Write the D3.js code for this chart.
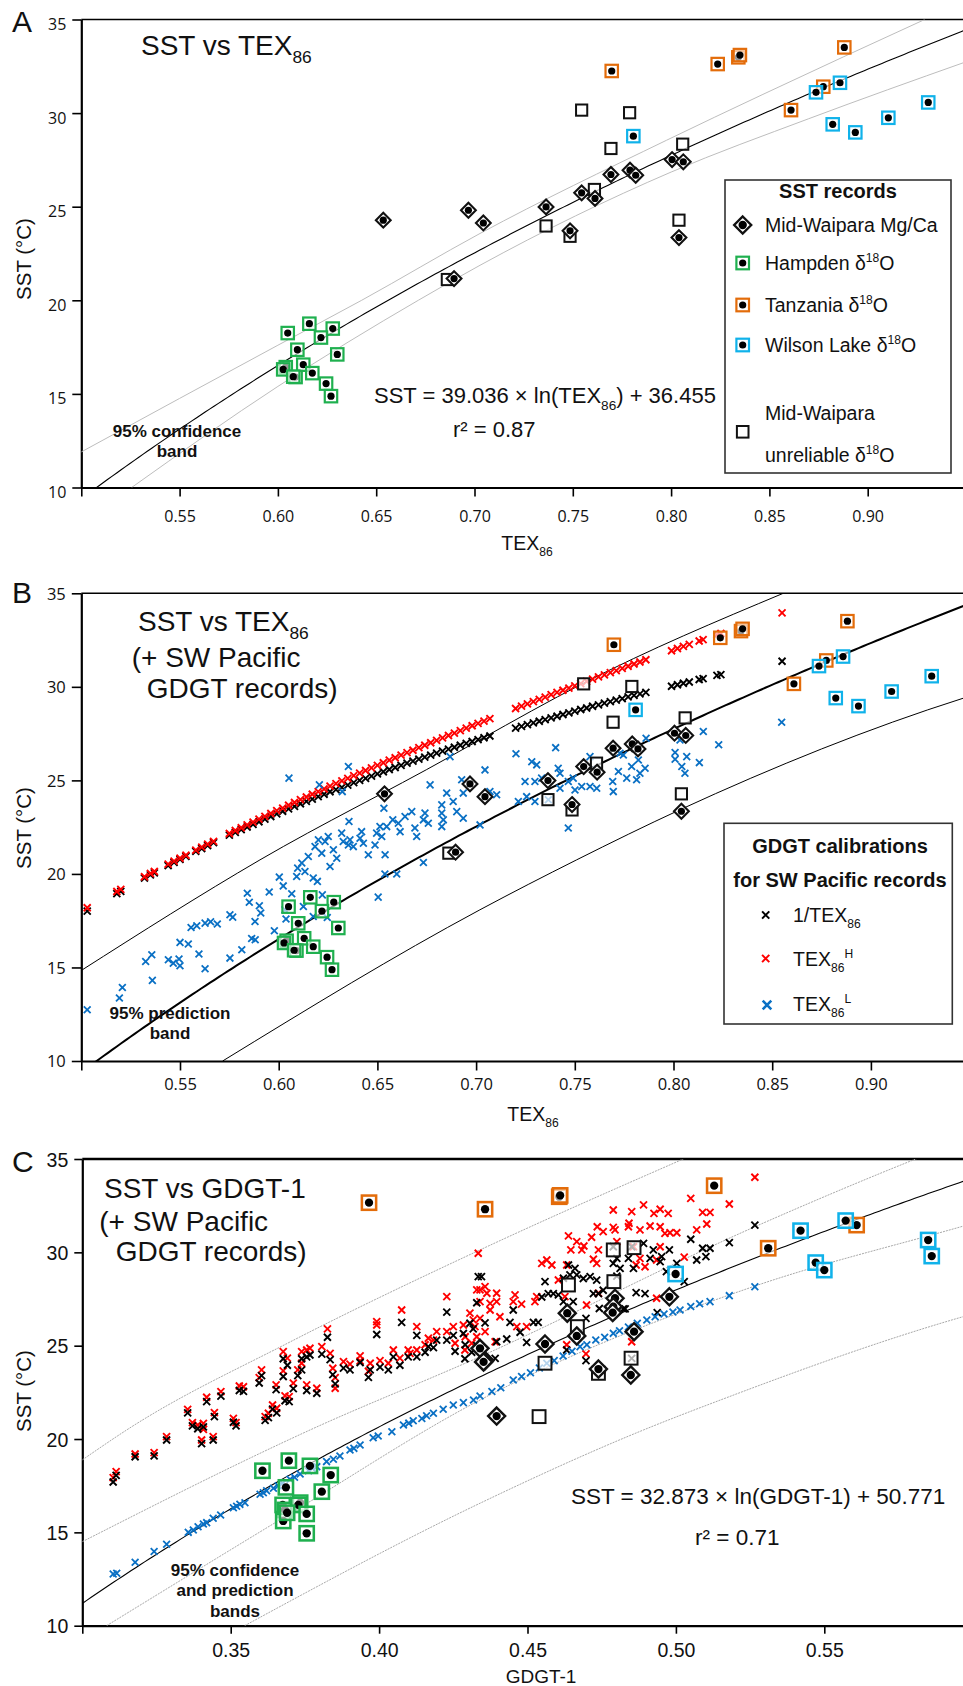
<!DOCTYPE html>
<html>
<head>
<meta charset="utf-8">
<script src="https://cdn.jsdelivr.net/npm/d3@7"></script>
<style>
  body { margin: 0; background: #fff; }
  text { font-family: "Liberation Sans", Arial, sans-serif; fill: #111; }
</style>
</head>
<body>
<div id="chart"></div>
<script>
// ---------- data: SST records (panels A and B share TEX86 positions) ----------
const mgcaTex = [0.6536,0.6969,0.6896,0.7045,0.7364,0.7486,0.7545,0.7613,0.7694,0.7791,0.7820,0.8005,0.8062,0.8040];
const mgcaSst = [24.28,24.81,21.16,24.13,24.99,23.71,25.74,25.44,26.72,26.95,26.68,27.52,27.40,23.35];
const hampTex = [0.6050,0.6160,0.6279,0.6219,0.6099,0.6302,0.6129,0.6040,0.6027,0.6090,0.6175,0.6245,0.6270,0.6078];
const hampSst = [18.25,18.75,18.49,18.01,17.36,17.11,16.56,16.43,16.31,15.90,16.11,15.55,14.88,15.92];
const tanzTex = [0.7698,0.8237,0.8342,0.8350,0.8881,0.8774,0.8610];
const tanzSst = [32.25,32.62,32.98,33.10,33.51,31.41,30.16];
const wilsTex = [0.7808,0.8737,0.8859,0.8822,0.8937,0.9105,0.9308];
const wilsSst = [28.77,31.11,31.62,29.40,28.97,29.75,30.57];
const unrelTex = [0.6862,0.7545,0.7789,0.7694,0.8059,0.7610,0.7364,0.7486,0.8040];
const unrelSst = [21.11,30.16,30.02,28.11,28.34,25.92,23.97,23.42,24.28];

// ---------- data: SST records against GDGT-1 (panel C) ----------
const mgcaG = [0.4795,0.4789,0.4787,0.4978,0.4634,0.4559,0.4666,0.4859,0.4340,0.4357,0.4739,0.4848,0.4396,0.4352];
const mgcaSstC = [27.54,27.09,26.77,27.62,26.74,25.09,25.52,25.75,24.86,24.20,23.75,23.43,21.23,24.13];
const hampG = [0.3607,0.3696,0.3767,0.3837,0.3686,0.3807,0.3675,0.3683,0.3734,0.3728,0.3756,0.3677,0.3756,0.3690];
const hampSstC = [18.30,18.84,18.56,18.07,17.41,17.18,16.47,16.20,16.59,16.47,15.99,15.61,14.95,16.05];
const tanzG = [0.3966,0.4357,0.4607,0.4610,0.5129,0.5311,0.5609];
const tanzSstC = [32.66,32.31,32.98,33.05,33.57,30.22,31.46];
const wilsG = [0.4999,0.5420,0.5572,0.5471,0.5500,0.5850,0.5862];
const wilsSstC = [28.84,31.16,31.70,29.45,29.05,30.66,29.80];
const unrelG = [0.4789,0.4859,0.4638,0.4791,0.4668,0.4559,0.4739,0.4849,0.4539];
const unrelSstC = [30.13,30.25,28.25,28.43,26.02,24.06,23.52,24.33,21.20];

// ---------- data: SW Pacific GDGT records, panel B ----------
const texB = [0.503,0.518,0.520,0.532,0.535,0.537,0.544,0.547,0.550,0.553,0.558,0.561,0.564,0.567,0.575,0.578,0.581,0.584,0.587,0.590,0.593,0.596,0.599,0.602,0.605,0.608,0.611,0.614,0.617,0.620,0.623,0.626,0.629,0.632,0.635,0.638,0.641,0.644,0.647,0.650,0.653,0.656,0.659,0.662,0.665,0.668,0.671,0.674,0.677,0.680,0.683,0.686,0.689,0.692,0.695,0.698,0.701,0.704,0.707,0.720,0.723,0.726,0.729,0.732,0.735,0.738,0.741,0.744,0.747,0.750,0.753,0.756,0.759,0.762,0.765,0.768,0.771,0.774,0.777,0.780,0.783,0.786,0.799,0.802,0.805,0.808,0.813,0.815,0.822,0.824,0.855];
const texHB = [18.19,19.06,19.17,19.85,20.02,20.13,20.52,20.68,20.84,21.00,21.27,21.43,21.59,21.74,22.16,22.32,22.47,22.62,22.77,22.93,23.08,23.23,23.38,23.52,23.67,23.82,23.97,24.11,24.26,24.40,24.54,24.69,24.83,24.97,25.11,25.25,25.39,25.53,25.67,25.80,25.94,26.08,26.21,26.35,26.48,26.61,26.75,26.88,27.01,27.14,27.27,27.40,27.53,27.66,27.79,27.92,28.05,28.17,28.30,28.84,28.97,29.09,29.21,29.33,29.45,29.58,29.70,29.82,29.93,30.05,30.17,30.29,30.41,30.53,30.64,30.76,30.87,30.99,31.10,31.22,31.33,31.45,31.93,32.05,32.16,32.27,32.45,32.52,32.78,32.85,33.95];
const invTexB = [18.01,18.95,19.07,19.78,19.95,20.06,20.45,20.62,20.78,20.94,21.21,21.36,21.52,21.67,22.07,22.22,22.37,22.51,22.65,22.79,22.93,23.07,23.21,23.35,23.48,23.61,23.75,23.88,24.00,24.13,24.26,24.39,24.51,24.63,24.75,24.88,25.00,25.11,25.23,25.35,25.46,25.58,25.69,25.80,25.92,26.03,26.14,26.24,26.35,26.46,26.56,26.67,26.77,26.88,26.98,27.08,27.18,27.28,27.37,27.79,27.89,27.98,28.07,28.16,28.25,28.34,28.43,28.52,28.61,28.70,28.79,28.87,28.96,29.04,29.13,29.21,29.29,29.37,29.46,29.54,29.62,29.70,30.03,30.11,30.19,30.26,30.39,30.44,30.61,30.65,31.37];
const texLB = [[0.5030,12.74],[0.5193,13.37],[0.5208,13.93],[0.5326,15.32],[0.5357,15.68],[0.5360,14.31],[0.5441,15.41],[0.5466,15.23],[0.5495,15.45],[0.5500,15.09],[0.5500,16.34],[0.5542,16.25],[0.5556,17.14],[0.5585,17.23],[0.5596,15.72],[0.5627,14.93],[0.5627,17.37],[0.5655,17.44],[0.5689,17.32],[0.5753,17.82],[0.5767,17.69],[0.5753,15.50],[0.5813,15.95],[0.5841,18.97],[0.5851,18.49],[0.5863,16.55],[0.5881,16.48],[0.5880,17.46],[0.5902,18.30],[0.5909,17.91],[0.5952,19.03],[0.5978,16.96],[0.6003,19.83],[0.6023,19.36],[0.6032,18.08],[0.6037,17.59],[0.6066,18.94],[0.6091,19.86],[0.6096,20.31],[0.6125,18.26],[0.6133,20.13],[0.6175,19.78],[0.6196,19.60],[0.6175,17.72],[0.6221,18.88],[0.6246,17.67],[0.6260,20.40],[0.6504,18.76],[0.6538,20.00],[0.6598,20.00],[0.6733,20.61],[0.6117,20.58],
  [0.6052,25.12],[0.6206,24.76],[0.6353,25.74],[0.6322,24.40],[0.6533,23.51],[0.6356,22.80],[0.6767,24.76],[0.6851,24.32],[0.6826,23.69],[0.6826,23.25],[0.6935,24.32],[0.6927,25.03],[0.6868,26.27],[0.6935,22.98],[0.6902,23.33],[0.6826,22.53],[0.6733,22.89],[0.6758,22.71],[0.6674,23.33],[0.6690,22.45],[0.6640,23.07],[0.6606,22.71],[0.6615,22.26],[0.6578,22.89],[0.6547,22.53],[0.6513,22.53],[0.6496,22.18],[0.6522,22.00],[0.6488,21.55],[0.6420,22.26],[0.6412,21.91],[0.6429,21.64],[0.6361,21.82],[0.6319,22.18],[0.6327,21.73],[0.6353,21.55],[0.6277,21.29],[0.6294,20.84],[0.6378,21.46],[0.6251,22.00],[0.6235,21.73],[0.6201,21.82],[0.6184,21.46],[0.6218,21.11],[0.6150,20.93],[0.6454,21.02],[0.6539,21.02],[0.6699,22.00],[0.6741,23.25],[0.6834,22.89],[0.6884,23.87],
  [0.7020,22.62],[0.7045,25.56],[0.7104,24.23],[0.7070,24.40],[0.7202,26.42],[0.7248,24.94],[0.7298,24.94],[0.7282,26.00],[0.7307,25.83],[0.7214,23.87],[0.7256,24.13],[0.7298,23.87],[0.7332,25.12],[0.7366,23.96],[0.7403,26.75],[0.7416,25.65],[0.7425,25.38],[0.7425,24.58],[0.7467,24.94],[0.7492,25.12],[0.7501,24.49],[0.7535,24.67],[0.7577,24.67],[0.7611,24.58],[0.7577,26.27],[0.7611,25.56],[0.7467,22.45],[0.7695,24.40],[0.7692,24.94],[0.7721,25.47],[0.7763,25.12],[0.7746,26.36],[0.7788,25.74],[0.7822,26.09],[0.7830,25.38],[0.7813,25.03],[0.7856,25.65],[0.7861,27.25],[0.7813,26.72],[0.7729,26.45],[0.8008,26.49],[0.8008,26.13],[0.8033,27.16],[0.8067,26.27],[0.8042,25.74],[0.8058,25.38],[0.8131,25.95],[0.8151,27.61],[0.8229,26.90],[0.8548,28.11]];

// ---------- data: SW Pacific GDGT records, panel C ----------
const texHC = [[0.3104,17.93],[0.3114,18.25],[0.3178,19.20],[0.3242,19.27],[0.3284,20.13],[0.3355,21.59],[0.3371,20.88],[0.3389,20.75],[0.3408,20.84],[0.3408,20.52],[0.3402,19.95],[0.3445,21.41],[0.3441,20.13],[0.3419,22.24],[0.3467,22.54],[0.3509,21.11],[0.3518,20.88],[0.3529,22.84],[0.3543,22.80],[0.3596,23.29],[0.3604,23.70],[0.3616,21.20],[0.3627,21.38],[0.3641,21.82],[0.3655,21.65],[0.3653,22.90],[0.3677,23.65],[0.3677,24.68],[0.3691,24.33],[0.3683,22.31],[0.3697,22.27],[0.3711,22.99],[0.3726,23.70],[0.3739,24.06],[0.3739,24.68],[0.3756,24.77],[0.3767,24.86],[0.3756,22.90],[0.3790,22.72],[0.3807,24.95],[0.3835,24.59],[0.3826,25.90],[0.3844,23.79],[0.3852,23.29],[0.3852,22.72],[0.3880,24.15],[0.3902,24.01],[0.3936,24.45],[0.3936,24.18],[0.3964,23.63],[0.3970,24.06],[0.3992,26.29],[0.3992,26.11],[0.4003,24.20],[0.4031,24.06],[0.4048,24.77],[0.4076,26.91],[0.4070,24.33],[0.4098,24.77],[0.4104,24.59],[0.4127,26.02],[0.4127,24.77],[0.4155,25.05],[0.4166,25.40],[0.4183,25.30],[0.4194,25.75],[0.4228,27.63],[0.4228,25.75],[0.4250,26.02],[0.4256,25.13],[0.4284,26.11],[0.4290,25.48],[0.4306,26.74],[0.4317,26.38],[0.4329,27.99],[0.4334,29.95],[0.4289,24.77],[0.4312,25.13],[0.4329,25.48],[0.4323,26.02],[0.4340,26.46],
  [0.5266,34.02],[0.5180,32.59],[0.5050,32.89],[0.5090,32.14],[0.5115,32.14],[0.5070,31.20],[0.5104,31.52],[0.5028,29.74],[0.4980,31.05],[0.5003,31.05],[0.4947,32.31],[0.4926,32.09],[0.4974,32.09],[0.4891,32.54],[0.4851,32.18],[0.4789,32.27],[0.4963,31.02],[0.4913,31.41],[0.4947,31.37],[0.4879,31.20],[0.4840,31.37],[0.4842,31.56],[0.4789,31.34],[0.4795,31.20],[0.4735,31.37],[0.4755,31.11],[0.4638,30.88],[0.4666,30.57],[0.4690,30.34],[0.4716,30.81],[0.4739,30.13],[0.4683,30.13],[0.4646,30.13],[0.4722,29.63],[0.4733,29.41],[0.4801,30.57],[0.4879,29.68],[0.4857,30.30],[0.4896,29.23],[0.4947,30.30],[0.4935,29.59],[0.4548,29.41],[0.4565,29.59],[0.4582,29.32],[0.4632,29.32],[0.4604,28.52],[0.4626,27.63],[0.4531,27.63],[0.4525,27.36],[0.4458,27.72],[0.4452,27.36],[0.4497,26.02],[0.4396,27.81],[0.4391,25.21],[0.4739,27.81],[0.4699,27.18],[0.4866,29.32],[0.4935,27.54],[0.4632,25.05],[0.4697,24.56],[0.4851,25.21],[0.4750,23.70],[0.4357,28.16],[0.4374,27.27],[0.4340,27.99],[0.4363,27.81],[0.4374,26.91],[0.4396,27.36],[0.4407,26.55],[0.4340,27.36],[0.4357,25.75],[0.4464,26.02],[0.4480,27.23]];
const invTexC = [[0.3104,17.70],[0.3114,18.05],[0.3178,19.05],[0.3242,19.10],[0.3284,19.95],[0.3355,21.40],[0.3371,20.70],[0.3389,20.55],[0.3408,20.65],[0.3402,19.75],[0.3445,21.20],[0.3441,19.95],[0.3419,22.00],[0.3467,22.30],[0.3509,20.90],[0.3518,20.70],[0.3529,22.60],[0.3543,22.55],[0.3596,23.00],[0.3604,23.40],[0.3616,21.00],[0.3627,21.15],[0.3641,21.60],[0.3655,21.40],[0.3653,22.65],[0.3677,23.35],[0.3677,24.30],[0.3691,23.95],[0.3683,22.05],[0.3697,22.00],[0.3711,22.70],[0.3726,23.40],[0.3739,23.70],[0.3739,24.30],[0.3756,24.40],[0.3767,24.50],[0.3756,22.60],[0.3790,22.45],[0.3807,24.55],[0.3835,24.25],[0.3826,25.45],[0.3844,23.45],[0.3852,22.95],[0.3880,23.80],[0.3902,23.70],[0.3936,24.10],[0.3964,23.30],[0.3970,23.70],[0.3992,25.60],[0.4003,23.85],[0.4031,23.70],[0.4048,24.40],[0.4076,26.25],[0.4070,23.95],[0.4098,24.40],[0.4127,25.55],[0.4127,24.40],[0.4155,24.65],[0.4166,24.95],[0.4183,24.90],[0.4194,25.30],[0.4228,26.80],[0.4228,25.30],[0.4250,25.55],[0.4256,24.70],[0.4284,25.65],[0.4290,25.05],[0.4306,26.20],[0.4317,25.90],[0.4329,27.30],[0.4334,28.70],[0.4289,24.30],[0.4312,24.65],[0.4329,25.00],
  [0.5266,31.46],[0.5180,30.52],[0.5101,29.77],[0.5070,29.59],[0.5115,30.22],[0.5090,30.22],[0.5050,30.70],[0.5028,28.43],[0.4978,30.13],[0.5003,29.41],[0.4968,28.97],[0.4947,29.50],[0.4924,30.13],[0.4913,29.68],[0.4952,29.77],[0.4891,30.48],[0.4851,30.30],[0.4789,30.30],[0.4840,29.68],[0.4801,29.68],[0.4789,29.41],[0.4812,29.14],[0.4801,28.73],[0.4857,29.14],[0.4866,27.84],[0.4896,27.79],[0.4829,26.97],[0.4739,27.79],[0.4722,27.79],[0.4755,27.97],[0.4733,28.51],[0.4688,28.60],[0.4660,29.14],[0.4638,29.32],[0.4711,28.70],[0.4666,28.79],[0.4643,28.79],[0.4621,28.61],[0.4604,27.72],[0.4559,28.43],[0.4570,27.79],[0.4587,27.79],[0.4548,27.61],[0.4536,26.25],[0.4520,26.25],[0.4475,25.72],[0.4497,25.18],[0.4452,26.91],[0.4441,26.25],[0.4430,25.36],[0.4396,25.21],[0.4391,24.32],[0.4357,26.22],[0.4345,28.70],[0.4621,27.36],[0.4654,27.36],[0.4697,26.46],[0.4742,26.99],[0.4823,26.97],[0.4937,26.77],[0.4632,24.77],[0.4697,24.20],[0.4851,24.32]];
const texLC = [[0.3104,12.77],[0.3116,12.81],[0.3178,13.40],[0.3242,13.97],[0.3284,14.36],[0.3357,15.00],[0.3374,15.13],[0.3390,15.30],[0.3408,15.45],[0.3419,15.52],[0.3441,15.76],[0.3466,15.93],[0.3509,16.32],[0.3520,16.40],[0.3531,16.50],[0.3548,16.59],[0.3599,17.04],[0.3610,17.12],[0.3621,17.23],[0.3644,17.36],[0.3660,17.50],[0.3675,17.63],[0.3700,17.84],[0.3715,17.95],[0.3734,18.13],[0.3762,18.30],[0.3775,18.42],[0.3790,18.52],[0.3823,18.79],[0.3846,18.92],[0.3868,19.09],[0.3902,19.41],[0.3915,19.50],[0.3936,19.68],[0.3980,20.07],[0.3997,20.16],[0.4043,20.39],[0.4082,20.75],[0.4100,20.85],[0.4115,20.98],[0.4144,21.10],[0.4160,21.25],[0.4183,21.38],[0.4216,21.59],[0.4250,21.82],[0.4284,21.95],[0.4318,22.09],[0.4340,22.30],[0.4380,22.55],[0.4410,22.75],[0.4452,23.16],[0.4480,23.35],[0.4510,23.55],[0.4540,23.80],[0.4565,24.06],[0.4590,24.20],[0.4620,24.45],[0.4650,24.70],[0.4677,24.95],[0.4700,25.05],[0.4730,25.30],[0.4760,25.45],[0.4789,25.66],[0.4810,25.80],[0.4840,26.00],[0.4870,26.20],[0.4902,26.38],[0.4930,26.55],[0.4960,26.70],[0.4990,26.80],[0.5014,26.91],[0.5050,27.10],[0.5080,27.25],[0.5115,27.36],[0.5180,27.68],[0.5266,28.16]];

// ---------- regressions (coefficients as printed) and bands ----------
const fitTex = [39.036, 36.455];
const fitGdgt = [32.873, 50.771];
const bandAUpper = [[0.50,11.9],[0.60,17.6],[0.6426,20.0],[0.7028,23.57],[0.7977,28.55],[0.8467,31.0],[0.929,35.0]];
const bandALower = [[0.5256,10.0],[0.60,15.4],[0.6714,20.0],[0.7028,21.87],[0.80,26.85],[0.87,29.7],[0.95,32.74]];
const bandBUpper = [[0.50,14.84],[0.5905,20.75],[0.6868,26.27],[0.7019,27.17],[0.7543,30.19],[0.8556,35.0]];
const bandBLower = [[0.5716,10.0],[0.7019,18.08],[0.7509,20.75],[0.8033,23.43],[0.9467,29.39],[0.95,29.5]];
const bandCPredUp = [[0.30,18.88],[0.315,20.49],[0.37,25.2],[0.434,30.13],[0.5025,35.0]];
const bandCConfUp = [[0.30,14.50],[0.3768,20.49],[0.434,24.41],[0.5266,31.37],[0.58,34.95],[0.60,36.2]];
const bandCConfLo = [[0.3082,10.0],[0.37,16.0],[0.434,22.09],[0.526,28.16],[0.5967,31.4],[0.60,31.55]];
const bandCPredLo = [[0.3547,10.0],[0.434,16.56],[0.489,20.48],[0.515,22.09],[0.5967,26.55],[0.60,26.7]];

const sstTicks = [10, 15, 20, 25, 30, 35];
const texTicks = [0.50, 0.55, 0.60, 0.65, 0.70, 0.75, 0.80, 0.85, 0.90];
const gdgtTicks = [0.30, 0.35, 0.40, 0.45, 0.50, 0.55];

// ---------- drawing ----------
const W = 963, H = 1686;
const svg = d3.select("#chart").append("svg").attr("width", W).attr("height", H);

const GREEN = "#1fb04f", ORANGE = "#e36c0a", CYAN = "#10b2ea", RED = "#ff0000", XBLUE = "#0a70c4";

// text with sub/superscripts; parts = [[str, "sub"|"sup"|undefined], ...]
function rich(parent, x, y, parts, size, anchor, weight) {
  const t = parent.append("text").attr("x", x).attr("y", y)
    .style("font-size", size + "px").attr("text-anchor", anchor || "start")
    .style("font-weight", weight || "normal");
  let off = 0;
  parts.forEach(([s, kind]) => {
    const target = kind === "sub" ? size * 0.3 : kind === "sup" ? -size * 0.42 : 0;
    const ts = t.append("tspan").attr("dy", target - off).text(s);
    if (kind) ts.style("font-size", (size * 0.62) + "px");
    off = target;
  });
  return t;
}

function makePanel(cfg) {
  const g = svg.append("g");
  const x = d3.scaleLinear().domain(cfg.xDom).range([cfg.left, cfg.right]);
  const y = d3.scaleLinear().domain([10, 35]).range([cfg.bottom, cfg.top]);
  svg.append("clipPath").attr("id", "clip" + cfg.name).append("rect")
    .attr("x", cfg.left).attr("y", cfg.top)
    .attr("width", W - cfg.left).attr("height", cfg.bottom - cfg.top);

  // top frame line
  g.append("line").attr("x1", cfg.left).attr("x2", W).attr("y1", cfg.top).attr("y2", cfg.top)
    .attr("stroke", "#000").attr("stroke-width", cfg.frame);

  const xa = g.append("g").attr("transform", `translate(0,${cfg.bottom})`)
    .call(d3.axisBottom(x).tickValues(cfg.xTicks)
      .tickFormat(d => Math.abs(d - cfg.xDom[0]) < 1e-9 ? "" : d3.format(".2f")(d))
      .tickSize(cfg.tick).tickSizeOuter(0).tickPadding(cfg.xPad));
  const ya = g.append("g").attr("transform", `translate(${cfg.left},0)`)
    .call(d3.axisLeft(y).tickValues(sstTicks).tickSize(cfg.tick).tickSizeOuter(0).tickPadding(6));
  [xa, ya].forEach(a => {
    a.select(".domain").attr("stroke-width", 2.2);
    a.selectAll(".tick line").attr("stroke-width", 1.6);
    a.selectAll("text").style("font-family", cfg.tickFont).style("font-size", cfg.tickSize + "px").attr("fill", "#111");
  });
  ya.selectAll("text").attr("dy", cfg.yDy);

  // panel letter and axis titles
  g.append("text").attr("x", 12).attr("y", cfg.letterY).style("font-size", "30px").text(cfg.name);
  g.append("text").attr("transform", `translate(31,${cfg.yLabelY}) rotate(-90)`)
    .attr("text-anchor", "middle").style("font-size", "20.5px").text("SST (°C)");

  const plot = g.append("g").attr("clip-path", `url(#clip${cfg.name})`);
  return { g, plot, x, y };
}

function curve(plot, x, y, pts, stroke, width, dash) {
  plot.append("path").datum(pts)
    .attr("d", d3.line().x(d => x(d[0])).y(d => y(d[1])).curve(d3.curveMonotoneX))
    .attr("fill", "none").attr("stroke", stroke).attr("stroke-width", width)
    .attr("stroke-dasharray", dash || null);
}

function fitLine(plot, x, y, coef, width) {
  const xs = d3.range(x.domain()[0], x.domain()[1] + 1e-9, (x.domain()[1] - x.domain()[0]) / 200);
  plot.append("path").datum(xs)
    .attr("d", d3.line().x(d => x(d)).y(d => y(coef[0] * Math.log(d) + coef[1])))
    .attr("fill", "none").attr("stroke", "#000").attr("stroke-width", width);
}

const crossPath = s => `M${-s},${-s}L${s},${s}M${-s},${s}L${s},${-s}`;
function crosses(plot, x, y, pts, color, s, w) {
  plot.append("g").selectAll("path").data(pts).join("path")
    .attr("transform", d => `translate(${x(d[0])},${y(d[1])})`)
    .attr("d", crossPath(s)).attr("stroke", color).attr("stroke-width", w).attr("fill", "none");
}

function records(plot, x, y, set, k) {
  const lay = plot.append("g");
  const pair = (a, b) => d3.zip(a, b);
  // unreliable: open squares
  lay.selectAll(null).data(pair(set.unrelX, set.unrelY)).join("rect")
    .attr("x", d => x(d[0]) - 5.6 * k).attr("y", d => y(d[1]) - 5.6 * k).attr("width", 11.2 * k).attr("height", 11.2 * k)
    .attr("fill", "#fff").attr("fill-opacity", 0.7).attr("stroke", "#111").attr("stroke-width", 2);
  // Mg/Ca: diamonds with dot
  const dg = lay.selectAll(null).data(pair(set.mgX, set.mgY)).join("g")
    .attr("transform", d => `translate(${x(d[0])},${y(d[1])}) scale(${k})`);
  dg.append("path").attr("d", "M0,-7.4L7.4,0L0,7.4L-7.4,0Z").attr("fill", "#fff").attr("stroke", "#111").attr("stroke-width", 2.1);
  dg.append("circle").attr("r", 3.6).attr("fill", "#000");
  // coloured boxes with dot
  [[set.hX, set.hY, GREEN], [set.tX, set.tY, ORANGE], [set.wX, set.wY, CYAN]].forEach(([xs, ys, col]) => {
    const bg = lay.selectAll(null).data(pair(xs, ys)).join("g")
      .attr("transform", d => `translate(${x(d[0])},${y(d[1])}) scale(${k})`);
    bg.append("rect").attr("x", -6.2).attr("y", -6.2).attr("width", 12.4).attr("height", 12.4)
      .attr("fill", "#fff").attr("fill-opacity", 0.6).attr("stroke", col).attr("stroke-width", 2.2);
    bg.append("circle").attr("r", 3.6).attr("fill", "#000");
  });
}

const recTex = { unrelX: unrelTex, unrelY: unrelSst, mgX: mgcaTex, mgY: mgcaSst, hX: hampTex, hY: hampSst,
  tX: tanzTex, tY: tanzSst, wX: wilsTex, wY: wilsSst };
const recGdgt = { unrelX: unrelG, unrelY: unrelSstC, mgX: mgcaG, mgY: mgcaSstC, hX: hampG, hY: hampSstC,
  tX: tanzG, tY: tanzSstC, wX: wilsG, wY: wilsSstC };

// ===== Panel A =====
const A = makePanel({ name: "A", xDom: [0.5, 0.95], left: 81.3, right: 966, top: 19.5, bottom: 487.5,
  xTicks: texTicks, tick: 9, xPad: 14, tickFont: "'Open Sans', sans-serif", tickSize: 16, yDy: "0.62em",
  frame: 1.6, letterY: 32, yLabelY: 259 });
curve(A.plot, A.x, A.y, bandAUpper, "#bdbdbd", 1);
curve(A.plot, A.x, A.y, bandALower, "#bdbdbd", 1);
fitLine(A.plot, A.x, A.y, fitTex, 1.1);
records(A.plot, A.x, A.y, recTex, 1);
rich(A.g, 141, 55, [["SST vs TEX"], ["86", "sub"]], 28);
rich(A.g, 374, 403, [["SST = 39.036 × ln(TEX"], ["86", "sub"], [") + 36.455"]], 22);
A.g.append("text").attr("x", 453).attr("y", 437).style("font-size", "22px").text("r² = 0.87");
A.g.append("text").attr("x", 177).attr("y", 437).attr("text-anchor", "middle").style("font-size", "17px").style("font-weight", "bold").text("95% confidence");
A.g.append("text").attr("x", 177).attr("y", 457).attr("text-anchor", "middle").style("font-size", "17px").style("font-weight", "bold").text("band");
rich(A.g, 527, 550, [["TEX"], ["86", "sub"]], 19.5, "middle");

// legend A
const LA = A.g.append("g");
LA.append("rect").attr("x", 725).attr("y", 180).attr("width", 226).attr("height", 293)
  .attr("fill", "#fff").attr("stroke", "#333").attr("stroke-width", 1.6);
LA.append("text").attr("x", 838).attr("y", 198).attr("text-anchor", "middle")
  .style("font-size", "20px").style("font-weight", "bold").text("SST records");
const lgX = 742.7, lgT = 765;
LA.append("path").attr("transform", `translate(${lgX},225)`).attr("d", "M0,-8.5L8.5,0L0,8.5L-8.5,0Z")
  .attr("fill", "#fff").attr("stroke", "#111").attr("stroke-width", 2.4);
LA.append("circle").attr("cx", lgX).attr("cy", 225).attr("r", 4.2);
rich(LA, lgT, 232, [["Mid-Waipara Mg/Ca"]], 19.5);
[[263, GREEN, "Hampden δ"], [305, ORANGE, "Tanzania δ"], [345, CYAN, "Wilson Lake δ"]].forEach(([cy, col, lab]) => {
  LA.append("rect").attr("x", lgX - 6.3).attr("y", cy - 6.3).attr("width", 12.6).attr("height", 12.6)
    .attr("fill", "#fff").attr("stroke", col).attr("stroke-width", 2.2);
  LA.append("circle").attr("cx", lgX).attr("cy", cy).attr("r", 3.6);
  rich(LA, lgT, cy + 7, [[lab], ["18", "sup"], ["O"]], 19.5);
});
LA.append("rect").attr("x", lgX - 5.8).attr("y", 426).attr("width", 11.6).attr("height", 11.6)
  .attr("fill", "#fff").attr("stroke", "#111").attr("stroke-width", 2);
rich(LA, lgT, 420, [["Mid-Waipara"]], 19.5);
rich(LA, lgT, 462, [["unreliable δ"], ["18", "sup"], ["O"]], 19.5);

// ===== Panel B =====
const B = makePanel({ name: "B", xDom: [0.5, 0.95], left: 81.3, right: 969.6, top: 593.3, bottom: 1061,
  xTicks: texTicks, tick: 9.5, xPad: 8, tickFont: "'Open Sans', sans-serif", tickSize: 16.5, yDy: "0.35em",
  frame: 1.6, letterY: 603, yLabelY: 828 });
curve(B.plot, B.x, B.y, bandBUpper, "#000", 1);
curve(B.plot, B.x, B.y, bandBLower, "#000", 1);
fitLine(B.plot, B.x, B.y, fitTex, 2);
crosses(B.plot, B.x, B.y, d3.zip(texB, invTexB), "#000", 3.5, 1.9);
crosses(B.plot, B.x, B.y, d3.zip(texB, texHB), RED, 3.5, 1.9);
crosses(B.plot, B.x, B.y, texLB, XBLUE, 3.4, 1.8);
records(B.plot, B.x, B.y, recTex, 1);
rich(B.g, 138, 631, [["SST vs TEX"], ["86", "sub"]], 28);
rich(B.g, 131.7, 667, [["(+ SW Pacific"]], 28);
rich(B.g, 146.7, 698, [["GDGT records)"]], 28);
B.g.append("text").attr("x", 170).attr("y", 1019).attr("text-anchor", "middle").style("font-size", "17px").style("font-weight", "bold").text("95% prediction");
B.g.append("text").attr("x", 170).attr("y", 1039).attr("text-anchor", "middle").style("font-size", "17px").style("font-weight", "bold").text("band");
rich(B.g, 533, 1121, [["TEX"], ["86", "sub"]], 19.5, "middle");

// legend B
const LB = B.g.append("g");
LB.append("rect").attr("x", 724).attr("y", 823.3).attr("width", 228.3).attr("height", 200.7)
  .attr("fill", "#fff").attr("stroke", "#333").attr("stroke-width", 1.6);
LB.append("text").attr("x", 840).attr("y", 853).attr("text-anchor", "middle")
  .style("font-size", "20px").style("font-weight", "bold").text("GDGT calibrations");
LB.append("text").attr("x", 840).attr("y", 887).attr("text-anchor", "middle")
  .style("font-size", "20px").style("font-weight", "bold").text("for SW Pacific records");
LB.append("path").attr("transform", "translate(765.7,915)").attr("d", crossPath(3.6)).attr("stroke", "#000").attr("stroke-width", 2);
LB.append("path").attr("transform", "translate(765.7,958.5)").attr("d", crossPath(3.6)).attr("stroke", RED).attr("stroke-width", 2);
LB.append("path").attr("transform", "translate(767,1005)").attr("d", crossPath(4.3)).attr("stroke", XBLUE).attr("stroke-width", 2.6);
rich(LB, 793, 922, [["1/TEX"], ["86", "sub"]], 19.5);
rich(LB, 793, 966, [["TEX"], ["86", "sub"], ["H", "sup"]], 19.5);
rich(LB, 793, 1011, [["TEX"], ["86", "sub"], ["L", "sup"]], 19.5);

// ===== Panel C =====
const C = makePanel({ name: "C", xDom: [0.3, 0.6], left: 82.3, right: 972.7, top: 1159, bottom: 1625.7,
  xTicks: gdgtTicks, tick: 8, xPad: 9, tickFont: "'Liberation Sans', Arial, sans-serif", tickSize: 19.5, yDy: "0.36em",
  frame: 2.6, letterY: 1172, yLabelY: 1391 });
curve(C.plot, C.x, C.y, bandCPredUp, "#a8a8a8", 1, "2,1");
curve(C.plot, C.x, C.y, bandCConfUp, "#a8a8a8", 1, "2,1");
curve(C.plot, C.x, C.y, bandCConfLo, "#a8a8a8", 1, "2,1");
curve(C.plot, C.x, C.y, bandCPredLo, "#a8a8a8", 1, "2,1");
fitLine(C.plot, C.x, C.y, fitGdgt, 1.1);
crosses(C.plot, C.x, C.y, texHC, RED, 3.5, 1.9);
crosses(C.plot, C.x, C.y, invTexC, "#000", 3.5, 1.9);
crosses(C.plot, C.x, C.y, texLC, XBLUE, 3.4, 1.8);
records(C.plot, C.x, C.y, recGdgt, 1.15);
rich(C.g, 104, 1198, [["SST vs GDGT-1"]], 28);
rich(C.g, 99.3, 1231, [["(+ SW Pacific"]], 28);
rich(C.g, 115.7, 1261, [["GDGT records)"]], 28);
rich(C.g, 571, 1504, [["SST = 32.873 × ln(GDGT-1) + 50.771"]], 22.5);
C.g.append("text").attr("x", 695).attr("y", 1545).style("font-size", "22.5px").text("r² = 0.71");
["95% confidence", "and prediction", "bands"].forEach((s, i) => {
  C.g.append("text").attr("x", 235).attr("y", 1576 + i * 20.4).attr("text-anchor", "middle")
    .style("font-size", "17px").style("font-weight", "bold").text(s);
});
C.g.append("text").attr("x", 541).attr("y", 1683).attr("text-anchor", "middle").style("font-size", "19px").text("GDGT-1");
</script>
</body>
</html>
